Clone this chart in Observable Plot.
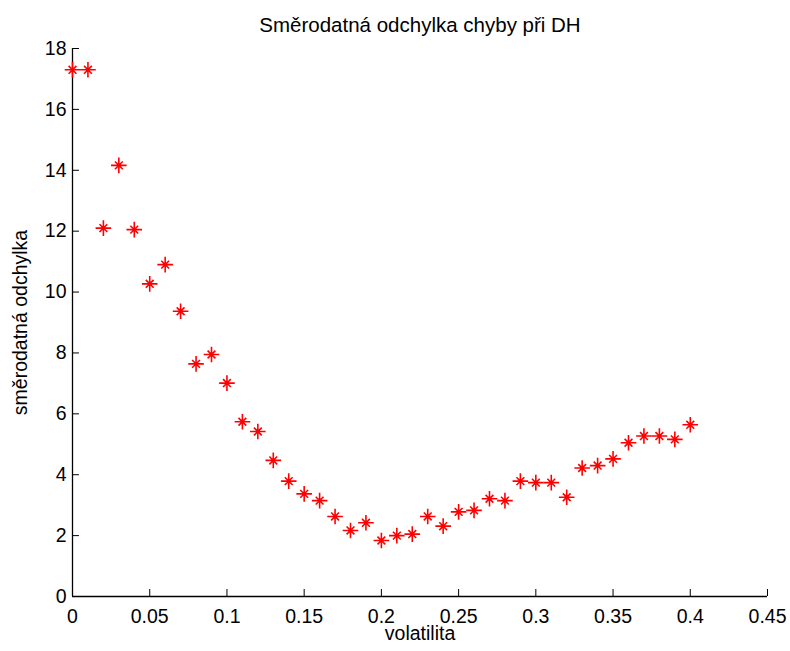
<!DOCTYPE html>
<html>
<head>
<meta charset="utf-8">
<script src="https://cdn.jsdelivr.net/npm/d3@7"></script>
<script src="https://cdn.jsdelivr.net/npm/@observablehq/plot@0.6"></script>
<style>
  html, body { margin: 0; padding: 0; background: #fff; }
  #chart svg { display: block; }
</style>
</head>
<body>
<div id="chart"></div>
<script>
// Standard deviation of the hedging error vs. volatility
const volatilita = [0, 0.01, 0.02, 0.03, 0.04, 0.05, 0.06, 0.07, 0.08, 0.09,
  0.10, 0.11, 0.12, 0.13, 0.14, 0.15, 0.16, 0.17, 0.18, 0.19,
  0.20, 0.21, 0.22, 0.23, 0.24, 0.25, 0.26, 0.27, 0.28, 0.29,
  0.30, 0.31, 0.32, 0.33, 0.34, 0.35, 0.36, 0.37, 0.38, 0.39, 0.40];
const odchylka = [17.3, 17.3, 12.1, 14.16, 12.05, 10.27, 10.9, 9.37, 7.64, 7.95,
  7.01, 5.74, 5.42, 4.47, 3.79, 3.37, 3.15, 2.63, 2.17, 2.42,
  1.84, 2.0, 2.05, 2.63, 2.31, 2.78, 2.83, 3.21, 3.15, 3.79,
  3.74, 3.74, 3.26, 4.22, 4.30, 4.52, 5.05, 5.27, 5.27, 5.16, 5.64];

const xTicks = [0, 0.05, 0.1, 0.15, 0.2, 0.25, 0.3, 0.35, 0.4, 0.45];
const yTicks = [0, 2, 4, 6, 8, 10, 12, 14, 16, 18];

const title = "Směrodatná odchylka chyby při DH";
const xLabel = "volatilita";
const yLabel = "směrodatná odchylka";

const points = volatilita.map((v, i) => ({v, s: odchylka[i]}));

// asterisk marker: long horizontal/vertical strokes plus short diagonals
const asterisk = {
  draw(context, size) {
    const r = Math.sqrt(size / Math.PI);
    const d = r * 0.5;
    context.moveTo(-r, 0); context.lineTo(r, 0);
    context.moveTo(0, -r); context.lineTo(0, r);
    context.moveTo(-d, -d); context.lineTo(d, d);
    context.moveTo(-d, d); context.lineTo(d, -d);
  }
};

const font = "'Liberation Sans', Arial, Helvetica, sans-serif";

const chart = Plot.plot({
  width: 790,
  height: 651,
  marginLeft: 72,
  marginRight: 23,
  marginTop: 48,
  marginBottom: 55,
  style: {fontFamily: font, fontSize: "19.5px", color: "#000", background: "#fff"},
  x: {domain: [0, 0.45]},
  y: {domain: [0, 18]},
  marks: [
    // inward ticks; padding compensates for the negative tick length
    Plot.axisX({
      ticks: xTicks,
      tickSize: -7,
      tickPadding: 20,
      tickFormat: d => String(+d.toFixed(2)),
      label: null,
      stroke: "#000",
      fill: "#000"
    }),
    Plot.axisY({
      ticks: yTicks,
      tickSize: -7,
      tickPadding: 13,
      label: null,
      stroke: "#000",
      fill: "#000"
    }),
    Plot.ruleY([0], {stroke: "#000", strokeWidth: 1.3}),
    Plot.ruleX([0], {stroke: "#000", strokeWidth: 1.3}),
    Plot.dot(points, {
      x: "v", y: "s",
      symbol: asterisk, r: 7.8,
      stroke: "#ff0000", fill: "none", strokeWidth: 1.6
    }),
    Plot.text([title], {frameAnchor: "top", textAnchor: "middle", lineAnchor: "bottom", dy: -17, fontSize: 20.5, fill: "#000"}),
    Plot.text([xLabel], {frameAnchor: "bottom", textAnchor: "middle", lineAnchor: "top", dy: 30, fontSize: 19.5, fill: "#000"}),
    Plot.text([yLabel], {frameAnchor: "left", textAnchor: "middle", rotate: -90, lineAnchor: "middle", dx: -52, fontSize: 19.5, fill: "#000"})
  ]
});

document.getElementById("chart").append(chart);
</script>
</body>
</html>
